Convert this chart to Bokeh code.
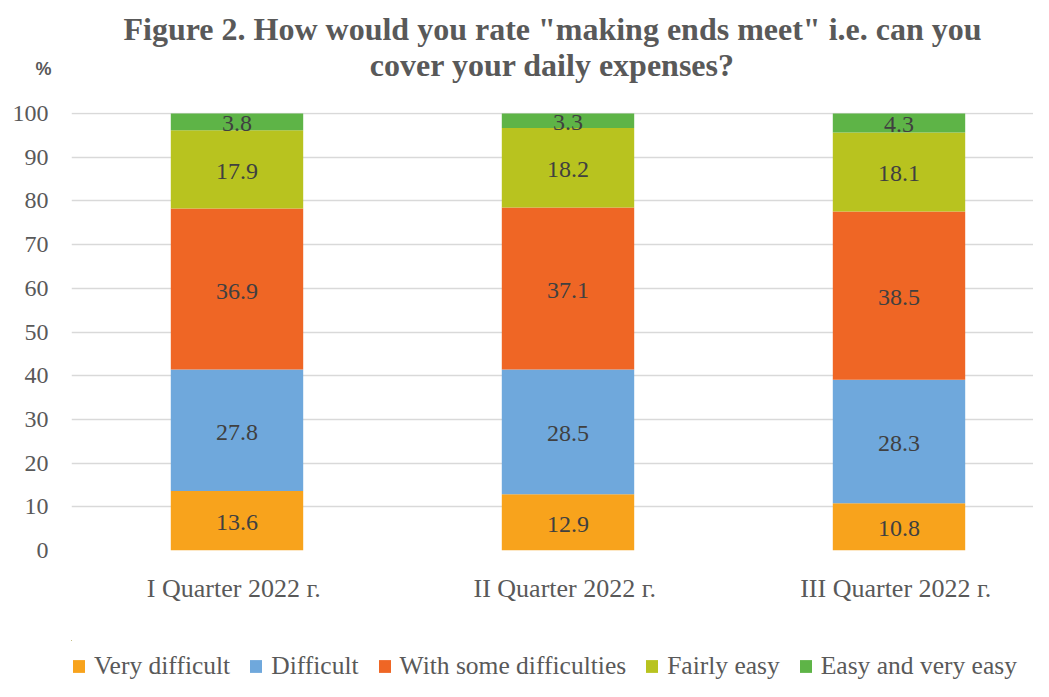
import numpy as np
from bokeh.plotting import figure
from bokeh.layouts import column
from bokeh.models import (Range1d, FixedTicker, Legend, LegendItem, ColumnDataSource, Title)
from bokeh.core.properties import value
from bokeh.embed import file_html
from bokeh.resources import INLINE

# ---- data ----
quarters = ["I Quarter 2022  г.", "II Quarter 2022  г.", "III Quarter 2022  г."]
series_names = ["Very difficult", "Difficult", "With some difficulties",
                "Fairly easy", "Easy and very easy"]
very_difficult = [13.6, 12.9, 10.8]
difficult = [27.8, 28.5, 28.3]
with_some_difficulties = [36.9, 37.1, 38.5]
fairly_easy = [17.9, 18.2, 18.1]
easy_and_very_easy = [3.8, 3.3, 4.3]
y_ticks = [0, 10, 20, 30, 40, 50, 60, 70, 80, 90, 100]

series_colors = ["#F8A31C", "#6FA8DC", "#EF6625", "#B8C31F", "#5EB447"]
title_line1 = 'Figure 2. How would you rate "making ends meet" i.e. can you'
title_line2 = "cover your daily expenses?"
unit_label = "%"

# ---- layout ----
W = 1033
H_MAIN, H_LEG = 640, 41
FL, FT, FB = 71, 112, 90
CAT_PX = 331
frame_w = W - FL

series_keys = ["very_difficult", "difficult", "with_some_difficulties",
               "fairly_easy", "easy_and_very_easy"]
series_vals = [very_difficult, difficult, with_some_difficulties,
               fairly_easy, easy_and_very_easy]
x_pos = [i + 0.5 for i in range(len(quarters))]

data = {"x": x_pos}
for k, v in zip(series_keys, series_vals):
    data[k] = v
src = ColumnDataSource(data)

p = figure(width=W, height=H_MAIN, output_backend="svg", toolbar_location=None,
           x_range=Range1d(0, frame_w / CAT_PX), y_range=Range1d(0, 100.25),
           min_border_left=FL, min_border_right=0,
           min_border_top=FT, min_border_bottom=FB)
p.outline_line_color = None
p.title.visible = False

renderers = p.vbar_stack(series_keys, x="x", width=0.4, fill_color=series_colors,
                         line_color=None, source=src)

# data labels
bottom = np.zeros(len(quarters))
for vals in series_vals:
    v = np.array(vals)
    centers = bottom + v / 2
    p.text(x=x_pos, y=list(centers), text=[f"{a:.1f}" for a in vals],
           text_align="center", text_baseline="middle", y_offset=2,
           text_font=value("Liberation Serif"), text_font_size="24px",
           text_color="#404040")
    bottom = bottom + v

# axes
xa = p.xaxis[0]
xa.ticker = FixedTicker(ticks=x_pos)
xa.major_label_overrides = {x: q for x, q in zip(x_pos, quarters)}
xa.axis_line_color = None
xa.major_tick_line_color = None
xa.minor_tick_line_color = None
xa.major_tick_out = 0
xa.major_tick_in = 0
xa.minor_tick_out = 0
xa.major_label_standoff = 23
xa.major_label_text_font = "Liberation Serif"
xa.major_label_text_font_size = "26px"
xa.major_label_text_color = "#595959"

ya = p.yaxis[0]
ya.ticker = FixedTicker(ticks=y_ticks)
ya.axis_line_color = None
ya.major_tick_line_color = None
ya.minor_tick_line_color = None
ya.major_tick_out = 0
ya.major_tick_in = 0
ya.minor_tick_out = 0
ya.major_label_standoff = 23
ya.major_label_text_font = "Liberation Serif"
ya.major_label_text_font_size = "24px"
ya.major_label_text_color = "#595959"

p.xgrid.visible = False
p.ygrid.ticker = FixedTicker(ticks=y_ticks)
p.ygrid.grid_line_color = "#d9d9d9"
p.ygrid.grid_line_width = 1.6

# "%" unit label: row nearest the frame, text lifted with a negative standoff
pct = Title(text=unit_label + "\n \n \n ", align="left", offset=-36, vertical_align="top",
            standoff=-57, text_font="Liberation Sans", text_font_size="18px",
            text_color="#595959")
p.add_layout(pct, "above")

# two-line title
t2 = Title(text=title_line2, align="center", standoff=9,
           text_font="Liberation Serif", text_font_style="bold",
           text_font_size="32px", text_color="#595959")
t1 = Title(text=title_line1, align="center", standoff=-12,
           text_font="Liberation Serif", text_font_style="bold",
           text_font_size="32px", text_color="#595959")
p.add_layout(t2, "above")
p.add_layout(t1, "above")

# ---- legend strip (separate small figure below; its bars fall outside its ranges) ----
pl = figure(width=W, height=H_LEG, output_backend="svg", toolbar_location=None,
            x_axis_type=None, y_axis_type=None,
            x_range=Range1d(10, 11), y_range=Range1d(-2, -1),
            min_border_left=0, min_border_right=0, min_border_top=0, min_border_bottom=0)
pl.outline_line_color = None
pl.title.visible = False
leg_renderers = pl.vbar_stack(series_keys, x="x", width=0.4, fill_color=series_colors,
                              line_color=None, source=src)
legend = Legend(items=[LegendItem(label=n, renderers=[r]) for n, r in zip(series_names, leg_renderers)],
                orientation="horizontal", location=(0, 0),
                glyph_width=15, glyph_height=16, label_standoff=8, spacing=18,
                padding=0, margin=0, border_line_color=None, background_fill_alpha=0,
                label_text_font="Liberation Serif", label_text_font_size="25.5px",
                label_text_color="#595959")
pl.add_layout(legend)

layout = column(p, pl, spacing=0)
open("out.html", "w").write(file_html(layout, INLINE))
